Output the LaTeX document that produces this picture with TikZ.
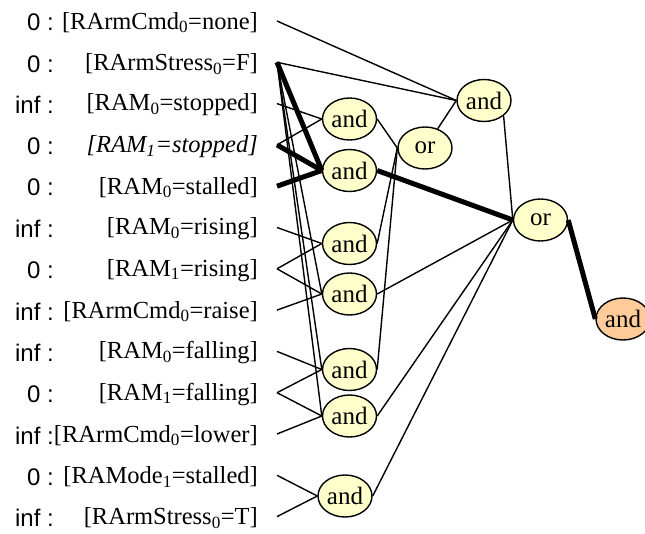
\documentclass[tikz,border=0pt]{standalone}
\usepackage{fontspec}
\setmainfont{Liberation Serif}
\newfontfamily\lsans{Liberation Sans}
\usetikzlibrary{shapes.geometric}
\definecolor{gatefill}{HTML}{FFFFCC}
\definecolor{goalfill}{HTML}{FFCC99}

\begin{document}
\begin{tikzpicture}[x=1pt, y=-1pt, font=\fontsize{24.5}{28}\selectfont,
    gate/.style={ellipse, draw, line width=1.4pt, fill=gatefill,
                 minimum width=54pt, minimum height=42pt, inner sep=0pt,
                 font=\fontsize{25}{28}\selectfont},
    goal/.style={gate, fill=goalfill},
    fact/.style={anchor=east, inner sep=0pt},
    cost/.style={anchor=east, inner sep=0pt, font=\lsans\fontsize{24}{28}\selectfont},
    wire/.style={line width=1.4pt},
    hot/.style={line width=5pt}]

    \useasboundingbox (0,0) rectangle (645,533);

    % Facts with their costs, and the port each wire leaves from
    \foreach \c/\t [count=\i] in {
        0/{[RArmCmd\textsubscript{0}=none]},
        0/{[RArmStress\textsubscript{0}=F]},
        inf/{[RAM\textsubscript{0}=stopped]},
        0/{\itshape [RAM\textsubscript{1}=stopped]},
        0/{[RAM\textsubscript{0}=stalled]},
        inf/{[RAM\textsubscript{0}=rising]},
        0/{[RAM\textsubscript{1}=rising]},
        inf/{[RArmCmd\textsubscript{0}=raise]},
        inf/{[RAM\textsubscript{0}=falling]},
        0/{[RAM\textsubscript{1}=falling]},
        inf/{[RArmCmd\textsubscript{0}=lower]},
        0/{[RAMode\textsubscript{1}=stalled]},
        inf/{[RArmStress\textsubscript{0}=T]}} {
        \node[cost] (c\i) at (54, {22.5+(\i-1)*41.3}) {\c\ :};
        \node[fact] (f\i) at (258, {22.5+(\i-1)*41.3}) {\t};
        \coordinate (r\i) at (277, {21+(\i-1)*41.3});
    }

    % First layer of gates
    \node[gate] (a1) at (349.5,119) {and};
    \node[gate] (a2) at (349.5,170.5) {and};
    \node[gate] (a4) at (349.5,243.5) {and};
    \node[gate] (a5) at (349.5,294) {and};
    \node[gate] (a6) at (349.5,369.5) {and};
    \node[gate] (a7) at (349.5,416) {and};
    \node[gate] (a8) at (345,496) {and};

    % Upper gates and the goal
    \node[gate] (or1) at (425,148) {or};
    \node[gate] (a3) at (484,100.5) {and};
    \node[gate] (or2) at (540.5,220) {or};
    \node[goal] (fin) at (623,319) {and};

    % Wires from the facts
    \draw[wire] (r1) -- (a3.west);
    \draw[wire] (r2) -- (a3.west);
    \draw[wire] (r2) -- (a5.west);
    \draw[wire] (r2) -- (a6.west);
    \draw[wire] (r2) -- (a7.west);
    \draw[wire] (r3) -- (a1.west);
    \draw[wire] (r4) -- (a1.west);
    \draw[wire] (r6) -- (a4.west);
    \draw[wire] (r7) -- (a4.west);
    \draw[wire] (r7) -- (a5.west);
    \draw[wire] (r8) -- (a5.west);
    \draw[wire] (r9) -- (a6.west);
    \draw[wire] (r10) -- (a6.west);
    \draw[wire] (r10) -- (a7.west);
    \draw[wire] (r11) -- (a7.west);
    \draw[wire] (r12) -- (a8.west);
    \draw[wire] (r13) -- (a8.west);

    % Wires between gates
    \draw[wire] (a1.east) -- (or1.west);
    \draw[wire] (a4.east) -- (or1.west);
    \draw[wire] (a6.east) -- (or1.west);
    \draw[wire] (or1) -- (a3.west);
    \draw[wire] (a3.south east) -- (or2.west);
    \draw[wire] (a5.east) -- (or2.west);
    \draw[wire] (a7.east) -- (or2.west);
    \draw[wire] (a8.east) -- (or2.west);

    % Highlighted path
    \draw[hot] (r2) -- (a2.west);
    \draw[hot] (r4) -- (a2.west);
    \draw[hot] (r5) -- (a2.west);
    \draw[hot] (a2.east) -- (or2.west);
    \draw[hot] (or2.east) -- (fin.west);
\end{tikzpicture}
\end{document}
